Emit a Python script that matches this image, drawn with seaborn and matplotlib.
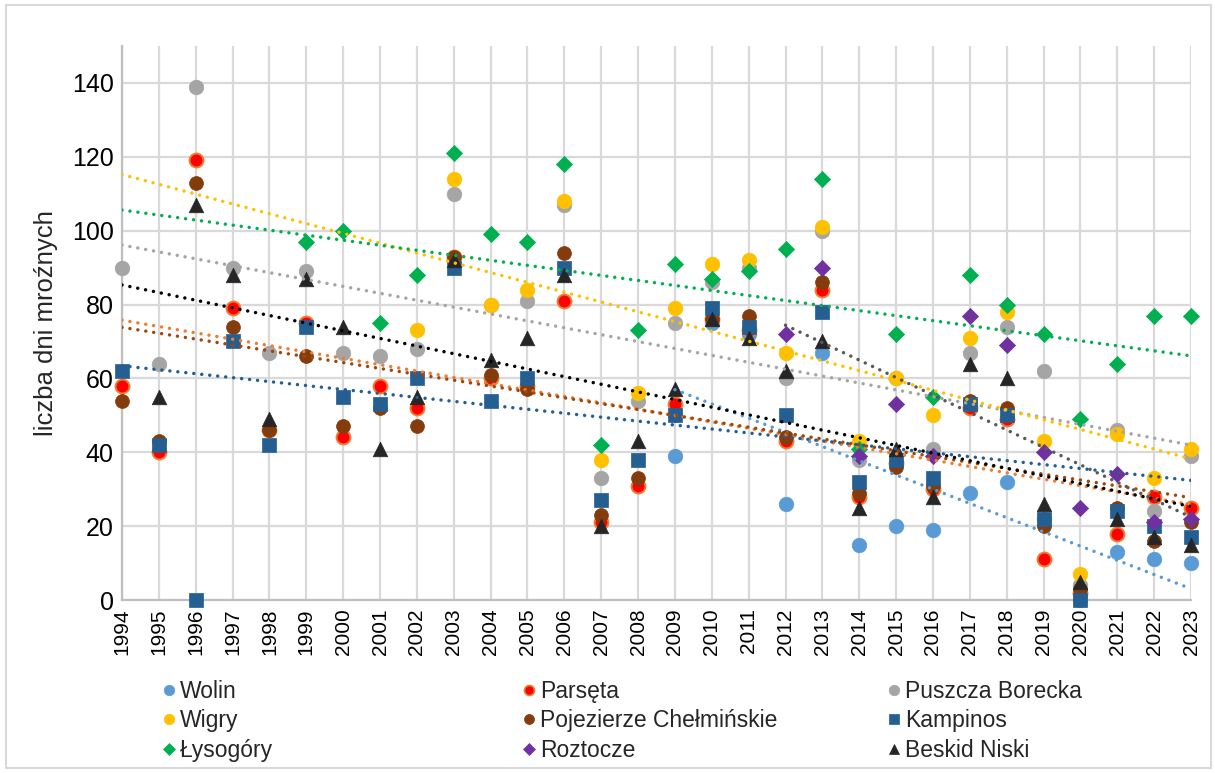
import numpy as np
import pandas as pd
import matplotlib
matplotlib.use("Agg")
import matplotlib.pyplot as plt
import seaborn as sns
from matplotlib.lines import Line2D
from matplotlib.patches import Rectangle

nan = np.nan
years = list(range(1994, 2024))

wolin = [nan]*15 + [39, 75, 72, 26, 67, 15, 20, 19, 29, 32, 22, 0, 13, 11, 10]
parseta = [58, 40, 119, 79, 46, 75, 44, 58, 52, 93, 60, 58, 81, 21, 31, 53, 76, 73, 43, 84,
           28, 37, 30, 52, 49, 11, 2, 18, 28, 25]
puszcza = [90, 64, 139, 90, 67, 89, 67, 66, 68, 110, 80, 81, 107, 33, 54, 75, 86, 90, 60, 100,
           38, 60, 41, 67, 74, 62, 4, 46, 24, 39]
wigry = [nan]*8 + [73, 114, 80, 84, 108, 38, 56, 79, 91, 92, 67, 101, 43, 60, 50, 71, 78, 43,
                   7, 45, 33, 41]
pojezierze = [54, 43, 113, 74, 46, 66, 47, 52, 47, 93, 61, 57, 94, 23, 33, 50, 76, 77, 44, 86,
              29, 36, 31, 54, 52, 20, 3, 25, 16, 21]
kampinos = [62, 42, 0, 70, 42, 74, 55, 53, 60, 90, 54, 60, 90, 27, 38, 50, 79, 74, 50, 78,
            32, 38, 33, 53, 50, 22, 0, 24, 20, 17]
lysogory = [nan]*5 + [97, 100, 75, 88, 121, 99, 97, 118, 42, 73, 91, 87, 89, 95, 114, 41, 72,
                      55, 88, 80, 72, 49, 64, 77, 77]
roztocze = [nan]*18 + [72, 90, 39, 53, 39, 77, 69, 40, 25, 34, 21, 22]
beskid = [nan, 55, 107, 88, 49, 87, 74, 41, 55, 92, 65, 71, 88, 20, 43, 57, 76, 71, 62, 70,
          25, 41, 28, 64, 60, 26, 5, 22, 17, 15]

names = ["Wolin", "Parsęta", "Puszcza Borecka", "Wigry", "Pojezierze Chełmińskie",
         "Kampinos", "Łysogóry", "Roztocze", "Beskid Niski"]
values = [wolin, parseta, puszcza, wigry, pojezierze, kampinos, lysogory, roztocze, beskid]
colors = ["#5B9BD5", "#FF0000", "#A5A5A5", "#FFC000", "#843C0C", "#255E91", "#00B050",
          "#7030A0", "#262626"]
edges = ["#5B9BD5", "#ED7D31", "#A5A5A5", "#FFC000", "#843C0C", "#255E91", "#00B050",
         "#7030A0", "#262626"]
markers = ["o", "o", "o", "o", "o", "s", "D", "D", "^"]
sizes = [110, 100, 110, 110, 100, 105, 68, 68, 110]
trend_colors = ["#5B9BD5", "#ED7D31", "#A5A5A5", "#FFC000", "#9E480E", "#255E91", "#00B050",
                "#595959", "#000000"]
trend_full = [False, True, True, True, True, True, True, False, True]

sns.set_style("white")
plt.rcParams["font.family"] = ["Liberation Sans", "DejaVu Sans"]

fig = plt.figure(figsize=(12.15, 7.73), dpi=100)
ax = fig.add_axes([122/1215, 1 - 600/773, (1191 - 122)/1215, (600 - 46)/773])
ax.set_xlim(1994, 2023)
ax.set_ylim(0, 150)

for name, vals, c, ec, m, s in zip(names, values, colors, edges, markers, sizes):
    df = pd.DataFrame({"rok": years, "dni": vals}).dropna()
    sns.scatterplot(data=df, x="rok", y="dni", ax=ax, color=c, edgecolor=ec,
                    linewidth=1.4 if name == "Parsęta" else 0.5, marker=m, s=s,
                    zorder=3, clip_on=False, legend=False)

for name, vals, tc, full in zip(names, values, trend_colors, trend_full):
    df = pd.DataFrame({"rok": years, "dni": vals}).dropna()
    sns.regplot(data=df, x="rok", y="dni", ax=ax, scatter=False, ci=None,
                truncate=not full,
                line_kws=dict(color=tc, lw=2.5, linestyle=(0, (0.01, 2.3)),
                              dash_capstyle="round", zorder=4))

ax.set_xlim(1994, 2023)
ax.set_ylim(0, 150)
ax.set_xticks(years)
ax.set_xticklabels([str(y) for y in years], rotation=90, fontsize=15)
ax.set_yticks(range(0, 141, 20))
ax.set_yticklabels([str(v) for v in range(0, 141, 20)], fontsize=18)
ax.tick_params(axis="both", length=0, pad=6, colors="#000000")
ax.set_xlabel("")
ax.set_ylabel("liczba dni mroźnych", fontsize=18.5, labelpad=10)
ax.grid(True, color="#D9D9D9", lw=1.6)
ax.set_axisbelow(True)
for sp in ["top", "right"]:
    ax.spines[sp].set_visible(False)
for sp in ["left", "bottom"]:
    ax.spines[sp].set_color("#BFBFBF")
    ax.spines[sp].set_linewidth(1.6)

handles = []
for name, c, ec, m, s in zip(names, colors, edges, markers, sizes):
    handles.append(Line2D([], [], linestyle="none", marker=m, color=c, markeredgecolor=ec,
                          markeredgewidth=1.2 if name == "Parsęta" else 0.5,
                          markersize=np.sqrt(s) * 0.72, label=name))

col_x = [163, 523, 888]
for ci in range(3):
    hs = [handles[ci], handles[ci + 3], handles[ci + 6]]
    fig.legend(handles=hs, loc="upper left", bbox_to_anchor=(col_x[ci]/1215, 1 - 680/773),
               frameon=False, fontsize=16.5, handlelength=0.5, handletextpad=0.25,
               labelspacing=0.28, borderaxespad=0, borderpad=0)

fig.add_artist(Rectangle((6/1215, 5/773), (1211 - 6)/1215, (768 - 5)/773,
                         transform=fig.transFigure, fill=False, ec="#D9D9D9", lw=1.5))

fig.savefig("out.png", dpi=100)
